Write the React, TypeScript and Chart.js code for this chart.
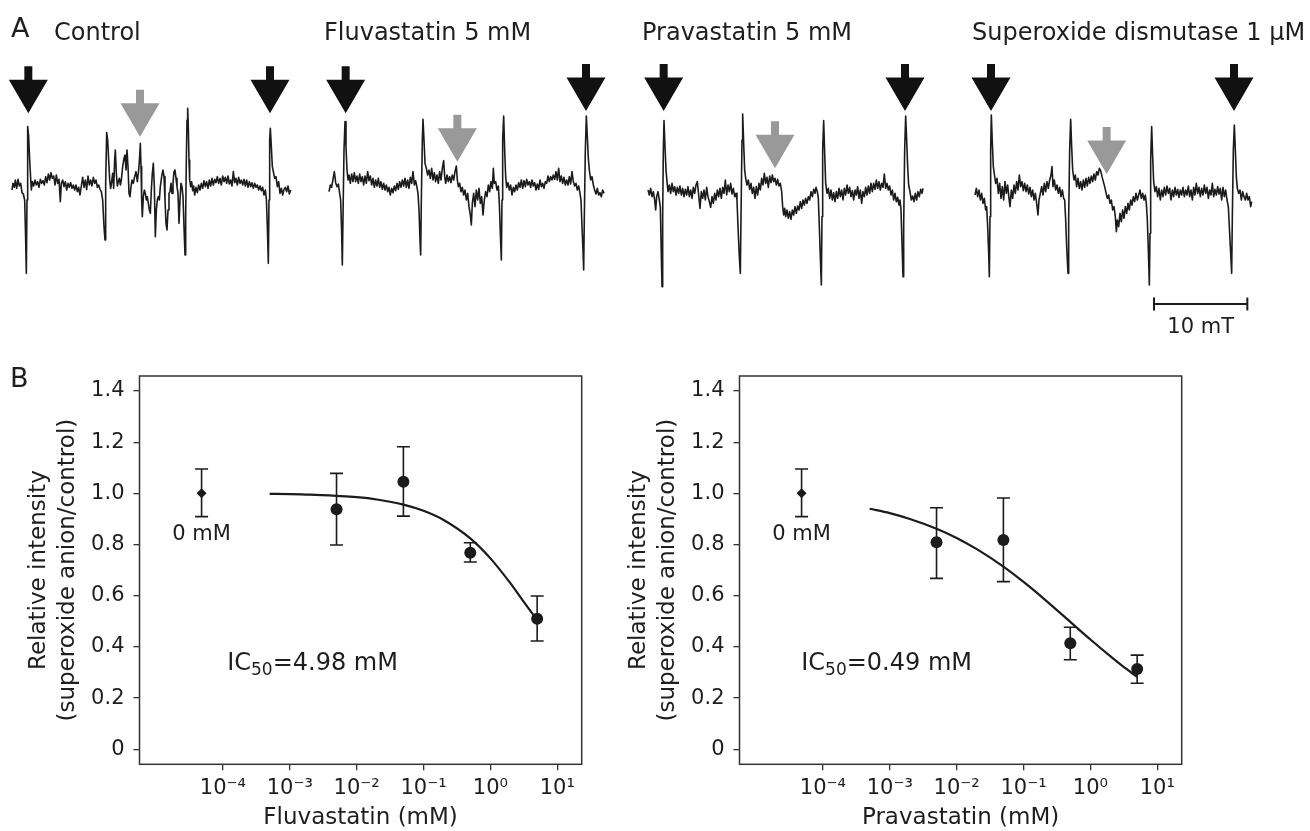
import React, { useEffect, useRef } from 'react';
import { Chart, registerables } from 'chart.js';

Chart.register(...registerables);

const FONT = '"DejaVu Sans", Verdana, sans-serif';
const INK = '#1b1b1b';
const TEXT = '#1e1e1e';
const AXIS = '#333333';
const ARROW_BLACK = '#111111';
const ARROW_GRAY = '#999999';

// ---------------- Panel A: ESR spectra (field position, deflection; deflection grows downward) ----------------
const traceTitles = ['Control', 'Fluvastatin 5 mM', 'Pravastatin 5 mM', 'Superoxide dismutase 1 \u03bcM'];

const traceControl: number[][] = [
  [12,270],[15,250],[19,262],[22,240],[26,265],[30,238],[34,258],[38,250],[42,278],[46,282],[50,300],[53,420],[55,520],[57,300],[59,80],[62,110],[65,180],[68,235],[70,270],[73,245],[77,258],[81,240],[85,255],[89,245],[93,262],[97,238],[101,250],[105,242],[109,255],[113,230],[117,248],[121,222],[125,240],[129,218],[133,235],[137,228],[141,255],[145,225],[149,250],[153,238],[157,305],[160,250],[164,240],[168,260],[172,245],[176,270],[180,250],[184,262],[188,248],[192,265],[196,255],[200,270],[204,255],[208,275],[212,262],[216,285],[220,258],[224,232],[228,262],[232,240],[236,268],[240,228],[244,255],[248,240],[252,258],[256,232],[260,250],[264,240],[268,262],[272,255],[276,268],[280,275],[284,300],[288,380],[291,420],[293,250],[296,98],[299,120],[302,180],[305,240],[308,265],[311,245],[314,220],[317,265],[320,180],[322,150],[325,220],[328,258],[331,245],[334,235],[337,255],[340,240],[344,200],[348,175],[351,165],[354,210],[357,150],[360,200],[363,280],[366,290],[369,260],[372,240],[376,250],[380,230],[384,215],[388,245],[392,210],[395,170],[397,130],[399,200],[401,300],[403,350],[406,290],[409,270],[412,280],[415,300],[418,290],[421,310],[424,330],[427,340],[430,270],[433,220],[436,190],[439,260],[442,410],[445,330],[448,300],[451,290],[454,300],[457,260],[461,230],[465,210],[468,230],[471,300],[474,370],[477,390],[480,330],[483,280],[486,275],[489,250],[492,280],[495,250],[498,215],[501,210],[504,235],[507,260],[510,280],[513,370],[516,300],[519,250],[522,260],[525,290],[528,380],[531,465],[533,350],[535,180],[537,60],[539,25],[541,80],[543,180],[545,240],[548,260],[551,245],[554,272],[557,258],[560,285],[564,262],[568,278],[572,255],[576,270],[580,250],[584,265],[588,242],[592,260],[596,245],[600,265],[604,240],[608,258],[612,235],[616,255],[620,238],[624,248],[628,230],[632,250],[636,235],[640,255],[644,228],[648,245],[652,232],[656,250],[660,228],[664,252],[668,240],[672,258],[676,215],[680,248],[684,235],[688,255],[692,232],[696,250],[700,240],[704,255],[708,238],[712,258],[716,240],[720,262],[724,245],[728,260],[732,248],[736,265],[740,250],[744,262],[748,255],[752,270],[756,258],[760,272],[764,262],[768,285],[772,270],[775,295],[778,380],[781,490],[783,300],[785,120],[787,85],[790,140],[793,200],[796,215],[800,235],[804,230],[808,260],[812,245],[816,280],[820,265],[824,285],[828,268],[832,262],[836,275],[840,258],[844,282],[848,270]
];

const traceFluvastatin: number[][] = [
  [18,275],[22,255],[26,262],[30,238],[34,215],[38,248],[42,260],[46,252],[50,280],[53,300],[56,400],[58,495],[60,350],[63,150],[66,65],[69,140],[72,210],[75,240],[78,225],[82,250],[86,222],[90,245],[94,218],[98,245],[102,228],[106,250],[110,222],[114,245],[118,230],[122,255],[126,228],[130,250],[134,215],[138,242],[142,228],[146,255],[150,235],[154,262],[158,240],[162,258],[166,235],[170,262],[174,245],[178,268],[182,250],[186,270],[190,255],[194,275],[198,262],[202,285],[206,265],[210,278],[214,258],[218,272],[222,250],[226,268],[230,245],[234,262],[238,240],[242,258],[246,235],[250,262],[254,240],[258,265],[262,232],[266,250],[270,215],[274,255],[278,242],[282,262],[285,280],[288,330],[291,420],[293,465],[295,300],[298,120],[300,58],[303,120],[306,190],[310,205],[314,225],[318,210],[322,235],[326,205],[330,240],[334,218],[338,245],[342,225],[346,250],[350,215],[354,240],[358,205],[362,182],[365,230],[368,250],[372,225],[376,245],[380,230],[384,248],[388,225],[392,240],[396,215],[400,198],[403,240],[406,260],[410,250],[414,275],[418,262],[422,285],[426,270],[430,300],[434,280],[438,320],[442,345],[445,375],[448,310],[452,280],[456,320],[460,270],[464,300],[468,265],[472,310],[476,290],[480,345],[484,300],[488,275],[492,290],[496,255],[500,275],[504,245],[508,265],[511,205],[514,250],[518,245],[522,270],[526,258],[529,310],[532,400],[535,480],[537,300],[539,120],[542,48],[545,150],[548,230],[551,262],[555,248],[559,270],[563,255],[567,285],[571,262],[575,275],[579,255],[583,270],[587,248],[591,262],[595,240],[599,265],[603,242],[607,260],[611,238],[615,255],[619,245],[623,262],[627,240],[631,258],[635,248],[639,270],[643,252],[647,268],[651,240],[655,260],[659,250],[663,265],[667,245],[671,250],[675,228],[679,245],[683,230],[687,240],[691,225],[695,238],[699,215],[703,240],[707,205],[711,245],[715,228],[719,250],[723,232],[727,255],[731,240],[735,255],[739,230],[743,252],[747,215],[751,245],[755,258],[759,250],[763,270],[767,258],[771,280],[774,300],[777,380],[780,450],[782,510],[784,350],[787,150],[790,48],[793,110],[796,175],[799,210],[803,240],[807,230],[811,255],[815,270],[819,282],[823,265],[827,285],[831,278],[835,290],[839,270],[843,280]
];

const tracePravastatin: number[][] = [
  [18,270],[22,285],[26,265],[30,290],[34,275],[38,300],[41,330],[44,290],[48,275],[52,300],[55,320],[57,420],[60,560],[62,350],[64,150],[66,62],[69,140],[72,210],[75,245],[78,275],[82,255],[86,280],[90,250],[94,275],[98,260],[102,285],[106,262],[110,280],[114,258],[118,285],[122,265],[126,290],[130,268],[134,285],[138,260],[142,290],[146,270],[150,295],[154,262],[158,280],[162,255],[166,245],[170,285],[174,325],[178,275],[182,295],[186,270],[190,300],[194,262],[198,290],[202,305],[206,322],[210,290],[214,310],[218,280],[222,300],[226,270],[230,290],[234,265],[238,295],[242,262],[246,280],[250,240],[254,285],[258,255],[262,275],[266,250],[270,282],[274,265],[278,290],[282,280],[285,300],[288,380],[292,470],[295,520],[297,350],[300,120],[302,42],[305,130],[308,210],[311,235],[315,255],[319,240],[323,268],[327,250],[331,280],[335,262],[339,295],[343,260],[347,285],[351,250],[355,270],[359,235],[363,255],[367,220],[371,250],[375,232],[379,262],[383,228],[387,248],[391,225],[395,245],[399,235],[403,255],[407,238],[411,258],[415,250],[419,275],[422,320],[425,345],[428,325],[431,350],[435,330],[439,355],[443,335],[447,358],[451,330],[455,345],[459,320],[463,340],[467,318],[471,330],[475,305],[479,325],[483,300],[487,315],[491,295],[495,310],[499,290],[503,300],[507,275],[511,290],[515,268],[519,280],[522,262],[526,275],[529,295],[532,380],[535,470],[538,555],[540,350],[542,150],[545,62],[548,160],[551,250],[555,280],[559,265],[563,295],[567,270],[571,300],[575,278],[579,305],[583,275],[587,295],[591,265],[595,290],[599,270],[603,300],[607,265],[611,285],[615,255],[619,280],[623,262],[627,290],[631,272],[635,300],[639,270],[643,285],[647,260],[651,295],[655,270],[659,310],[663,275],[667,290],[671,262],[675,285],[679,258],[683,280],[687,250],[691,275],[695,250],[699,268],[703,240],[707,265],[711,245],[715,270],[719,250],[723,262],[727,222],[731,265],[735,250],[739,270],[743,258],[747,285],[751,270],[755,300],[759,280],[763,305],[767,292],[771,315],[774,300],[777,330],[780,430],[783,530],[785,380],[788,150],[791,48],[794,120],[797,200],[800,255],[804,275],[808,300],[812,288],[816,305],[820,280],[824,300],[828,275],[832,290],[836,268],[840,280],[843,265]
];

const traceSOD: number[][] = [
  [15,285],[19,265],[23,290],[27,270],[31,300],[35,280],[39,310],[43,295],[47,330],[50,320],[53,380],[56,460],[58,530],[60,350],[62,150],[64,45],[67,130],[70,200],[73,222],[77,250],[81,235],[85,280],[89,250],[93,295],[97,260],[101,300],[105,245],[109,280],[113,255],[117,295],[120,320],[124,270],[128,295],[132,255],[136,280],[140,245],[144,270],[148,225],[152,260],[156,245],[160,272],[164,250],[168,275],[172,255],[176,282],[180,262],[184,290],[188,270],[192,300],[196,280],[200,310],[204,345],[207,300],[211,280],[215,260],[219,285],[223,250],[227,275],[231,245],[235,265],[239,240],[243,225],[246,200],[249,260],[253,240],[257,270],[261,255],[265,280],[269,262],[273,290],[277,270],[281,295],[284,300],[287,360],[290,440],[294,520],[296,350],[299,150],[302,58],[305,140],[308,210],[312,240],[316,225],[320,260],[324,235],[328,265],[332,245],[336,270],[340,240],[344,262],[348,235],[352,258],[356,232],[360,250],[364,228],[368,245],[372,222],[376,240],[380,215],[384,225],[388,205],[392,212],[396,230],[400,245],[404,260],[408,278],[412,295],[416,285],[420,310],[424,300],[428,330],[432,320],[436,350],[439,395],[442,360],[446,380],[450,340],[454,365],[458,330],[462,355],[466,320],[470,340],[474,310],[478,330],[482,300],[486,315],[490,290],[494,305],[498,280],[502,300],[506,285],[510,270],[514,295],[518,280],[522,300],[526,285],[529,310],[532,360],[535,450],[538,555],[540,400],[542,180],[545,80],[548,170],[551,245],[555,275],[559,260],[563,290],[567,265],[571,300],[575,270],[579,290],[583,262],[587,285],[591,258],[595,280],[599,265],[603,300],[607,270],[611,290],[615,262],[619,285],[623,268],[627,292],[631,270],[635,285],[639,262],[643,290],[647,270],[651,285],[655,258],[659,290],[663,270],[667,300],[671,262],[675,285],[679,250],[683,280],[687,262],[691,290],[695,265],[699,285],[703,255],[707,280],[711,262],[715,295],[719,270],[723,285],[727,250],[731,290],[735,268],[739,285],[743,260],[747,282],[751,265],[755,300],[759,262],[763,290],[767,270],[771,300],[775,320],[778,380],[782,460],[785,520],[787,350],[790,150],[793,75],[796,150],[799,230],[802,265],[806,280],[810,270],[814,300],[818,275],[822,290],[826,300],[830,280],[834,300],[838,290],[842,320],[845,305]
];

const traces = [traceControl, traceFluvastatin, tracePravastatin, traceSOD];

// arrows: field position and tip deflection, per trace; kinds per slot
const arrowField = [[61, 396, 786], [68, 403, 789], [65, 399, 789], [63, 410, 792]];
const arrowTip = [[40, 110, 40], [40, 185, 33], [33, 205, 33], [33, 222, 33]];
const arrowKind = ['black', 'gray', 'black'];

// scale bar (on the last trace): field start, field length, label
const scaleBarStart = 552;
const scaleBarLength = 280;
const scaleBarLabel = '10 mT';

// ---------------- Panel B: dose-response ----------------
const doseConc = [0.005, 0.05, 0.5, 5];
const controlConc = 4.8e-5; // "0 mM" drawn left of axis range
const controlMean = 1.0;
const controlHigh = 1.095;
const controlLow = 0.909;

const fluvaMean = [0.938, 1.045, 0.768, 0.51];
const fluvaHigh = [1.078, 1.182, 0.807, 0.599];
const fluvaLow = [0.798, 0.911, 0.732, 0.423];

const pravaMean = [0.809, 0.818, 0.414, 0.314];
const pravaHigh = [0.944, 0.982, 0.477, 0.368];
const pravaLow = [0.668, 0.655, 0.35, 0.258];

const fitConc = [5e-4, 1e-3, 2e-3, 5e-3, 1e-2, 2e-2, 5e-2, 0.1, 0.2, 0.5, 1, 2, 3, 5];
const fluvaFit = [0.998, 0.997, 0.995, 0.99, 0.985, 0.976, 0.956, 0.932, 0.896, 0.824, 0.746, 0.648, 0.584, 0.505];
const pravaFit = [0.94, 0.923, 0.9, 0.862, 0.826, 0.782, 0.714, 0.654, 0.589, 0.498, 0.429, 0.363, 0.326, 0.283];

const xTickValues = [1e-4, 1e-3, 1e-2, 1e-1, 1, 10];
const xTickLabels = ['10\u207b\u2074', '10\u207b\u00b3', '10\u207b\u00b2', '10\u207b\u00b9', '10\u2070', '10\u00b9'];
const yTickValues = [0, 0.2, 0.4, 0.6, 0.8, 1.0, 1.2, 1.4];

// ---------------- layout ----------------
const W = 1310;
const A_H = 345;
const TRACE_ORIGIN = [8, 323, 642, 970];
const FIELD_PER_PX = 3;
const DEFLECT_ZERO_PX = 100;
const B_TOP = 345;
const B_W = 600;
const B_H = 486;

function panelAConfig(): any {
  const scales: any = {
    y: { display: false, min: -DEFLECT_ZERO_PX * FIELD_PER_PX, max: (A_H - DEFLECT_ZERO_PX) * FIELD_PER_PX, reverse: true },
  };
  const ids = ['x', 'x1', 'x2', 'x3'];
  ids.forEach((id, k) => {
    scales[id] = {
      type: 'linear', axis: 'x', display: false,
      min: -FIELD_PER_PX * TRACE_ORIGIN[k],
      max: FIELD_PER_PX * (W - TRACE_ORIGIN[k]),
    };
  });
  const plugin = {
    id: 'panelADecor',
    afterDatasetsDraw(chart: any) {
      const ctx = chart.ctx;
      const ys = chart.scales.y;
      ctx.save();
      arrowField.forEach((row, k) => {
        const xs = chart.scales[ids[k]];
        row.forEach((f, j) => {
          const px = xs.getPixelForValue(f);
          const py = ys.getPixelForValue(arrowTip[k][j]);
          ctx.fillStyle = arrowKind[j] === 'black' ? ARROW_BLACK : ARROW_GRAY;
          ctx.beginPath();
          ctx.moveTo(px - 4, py - 47);
          ctx.lineTo(px + 4, py - 47);
          ctx.lineTo(px + 4, py - 33.5);
          ctx.lineTo(px + 19.5, py - 33.5);
          ctx.lineTo(px, py);
          ctx.lineTo(px - 19.5, py - 33.5);
          ctx.lineTo(px - 4, py - 33.5);
          ctx.closePath();
          ctx.fill();
        });
      });
      ctx.fillStyle = TEXT;
      ctx.textBaseline = 'alphabetic';
      ctx.textAlign = 'left';
      ctx.font = `27px ${FONT}`;
      ctx.fillText('A', 11, 37);
      ctx.font = `24px ${FONT}`;
      const titleX = [54, 324, 642, 972];
      traceTitles.forEach((t, k) => ctx.fillText(t, titleX[k], 40));
      const xs = chart.scales.x3;
      const x1 = xs.getPixelForValue(scaleBarStart);
      const x2 = xs.getPixelForValue(scaleBarStart + scaleBarLength);
      const yb = 304;
      ctx.strokeStyle = INK;
      ctx.lineWidth = 2;
      ctx.beginPath();
      ctx.moveTo(x1, yb); ctx.lineTo(x2, yb);
      ctx.moveTo(x1, yb - 6.5); ctx.lineTo(x1, yb + 6.5);
      ctx.moveTo(x2, yb - 6.5); ctx.lineTo(x2, yb + 6.5);
      ctx.stroke();
      ctx.font = `21px ${FONT}`;
      ctx.textAlign = 'center';
      ctx.fillText(scaleBarLabel, (x1 + x2) / 2, 333);
      ctx.restore();
    },
  };
  return {
    type: 'scatter',
    data: {
      datasets: traces.map((t, k) => ({
        data: t.map(([x, y]) => ({ x, y })),
        xAxisID: ids[k],
        yAxisID: 'y',
        showLine: true,
        pointRadius: 0,
        borderColor: INK,
        borderWidth: 1.6,
        borderJoinStyle: 'round',
        tension: 0,
      })),
    },
    options: {
      responsive: false,
      animation: false,
      devicePixelRatio: 1,
      layout: { padding: 0 },
      plugins: { legend: { display: false }, tooltip: { enabled: false } },
      scales,
    },
    plugins: [plugin],
  };
}

interface DoseSpec {
  xTitle: string;
  mean: number[];
  high: number[];
  low: number[];
  fit: number[];
  ic50Value: string;
  ic50At: { x: number; y: number };
  letter: boolean;
}

const FLUVA: DoseSpec = {
  xTitle: 'Fluvastatin (mM)', mean: fluvaMean, high: fluvaHigh, low: fluvaLow, fit: fluvaFit,
  ic50Value: '=4.98 mM', ic50At: { x: 1.16e-4, y: 0.31 }, letter: true,
};
const PRAVA: DoseSpec = {
  xTitle: 'Pravastatin (mM)', mean: pravaMean, high: pravaHigh, low: pravaLow, fit: pravaFit,
  ic50Value: '=0.49 mM', ic50At: { x: 4.75e-5, y: 0.31 }, letter: false,
};

function doseConfig(d: DoseSpec): any {
  const CAP = 6.5;
  const plugin = {
    id: 'doseDecor',
    beforeDatasetsDraw(chart: any) {
      const { ctx } = chart;
      const xs = chart.scales.x, ys = chart.scales.y;
      ctx.save();
      ctx.strokeStyle = INK;
      ctx.lineWidth = 1.6;
      chart.data.datasets.forEach((ds: any) => {
        if (!ds.errHigh) return;
        ds.data.forEach((p: any, i: number) => {
          const px = xs.getPixelForValue(p.x);
          const y1 = ys.getPixelForValue(ds.errHigh[i]);
          const y2 = ys.getPixelForValue(ds.errLow[i]);
          ctx.beginPath();
          ctx.moveTo(px, y1); ctx.lineTo(px, y2);
          ctx.moveTo(px - CAP, y1); ctx.lineTo(px + CAP, y1);
          ctx.moveTo(px - CAP, y2); ctx.lineTo(px + CAP, y2);
          ctx.stroke();
        });
      });
      ctx.restore();
    },
    afterDraw(chart: any) {
      const { ctx, chartArea } = chart;
      const xs = chart.scales.x, ys = chart.scales.y;
      ctx.save();
      ctx.strokeStyle = AXIS;
      ctx.lineWidth = 1.5;
      ctx.strokeRect(chartArea.left, chartArea.top, chartArea.right - chartArea.left, chartArea.bottom - chartArea.top);
      ctx.fillStyle = TEXT;
      ctx.textBaseline = 'alphabetic';
      ctx.font = `21px ${FONT}`;
      ctx.textAlign = 'center';
      ctx.fillText('0 mM', xs.getPixelForValue(controlConc), ys.getPixelForValue(0.818));
      ctx.textAlign = 'left';
      let x = xs.getPixelForValue(d.ic50At.x);
      const y = ys.getPixelForValue(d.ic50At.y);
      ctx.font = `24px ${FONT}`;
      ctx.fillText('IC', x, y);
      x += ctx.measureText('IC').width;
      ctx.font = `17px ${FONT}`;
      ctx.fillText('50', x, y + 5);
      x += ctx.measureText('50').width;
      ctx.font = `24px ${FONT}`;
      ctx.fillText(d.ic50Value, x, y);
      if (d.letter) {
        ctx.font = `27px ${FONT}`;
        ctx.fillText('B', 10, 42);
      }
      ctx.restore();
    },
  };
  return {
    type: 'scatter',
    data: {
      datasets: [
        {
          data: fitConc.map((x, i) => ({ x, y: d.fit[i] })),
          showLine: true, pointRadius: 0, borderColor: INK, borderWidth: 2.2,
          cubicInterpolationMode: 'monotone',
        },
        {
          data: doseConc.map((x, i) => ({ x, y: d.mean[i] })),
          pointRadius: 6, pointStyle: 'circle', backgroundColor: INK, borderColor: INK, borderWidth: 0,
          errHigh: d.high, errLow: d.low,
        },
        {
          data: [{ x: controlConc, y: controlMean }],
          pointRadius: 5, pointStyle: 'rectRot', backgroundColor: INK, borderColor: INK, borderWidth: 0,
          errHigh: [controlHigh], errLow: [controlLow],
        },
      ],
    },
    options: {
      responsive: false,
      animation: false,
      devicePixelRatio: 1,
      layout: { padding: { left: 0, top: 31, right: 18.3, bottom: 0 } },
      plugins: { legend: { display: false }, tooltip: { enabled: false } },
      scales: {
        x: {
          type: 'logarithmic',
          min: Math.pow(10, -5.247),
          max: Math.pow(10, 1.365),
          afterBuildTicks: (s: any) => { s.ticks = xTickValues.map((v) => ({ value: v })); },
          afterFit: (s: any) => { s.height = 66.7; },
          ticks: {
            callback: (_v: any, i: number) => xTickLabels[i],
            font: { family: FONT, size: 21 }, color: TEXT, padding: 6,
            maxRotation: 0, autoSkip: false,
          },
          grid: { drawOnChartArea: false, drawTicks: true, tickLength: 6, color: AXIS, lineWidth: 1.3 },
          border: { display: false },
          title: {
            display: true, text: d.xTitle, color: TEXT,
            font: { family: FONT, size: 23, lineHeight: 1 },
            padding: { top: 0, bottom: 1 },
          },
        },
        y: {
          type: 'linear',
          min: -0.0586,
          max: 1.4586,
          afterBuildTicks: (s: any) => { s.ticks = yTickValues.map((v) => ({ value: v })); },
          afterFit: (s: any) => { s.width = 139.5; },
          ticks: {
            callback: (v: any) => (v === 0 ? '0' : Number(v).toFixed(1)),
            font: { family: FONT, size: 21 }, color: TEXT, padding: 9,
          },
          grid: { drawOnChartArea: false, drawTicks: true, tickLength: 6, color: AXIS, lineWidth: 1.3 },
          border: { display: false },
          title: {
            display: true, text: ['Relative intensity', '(superoxide anion/control)'], color: TEXT,
            font: { family: FONT, size: 23, lineHeight: 1.26 },
            padding: { top: 25, bottom: 0 },
          },
        },
      },
    },
    plugins: [plugin],
  };
}

export default function App() {
  const aRef = useRef<HTMLCanvasElement>(null);
  const lRef = useRef<HTMLCanvasElement>(null);
  const rRef = useRef<HTMLCanvasElement>(null);

  useEffect(() => {
    const charts = [
      new Chart(aRef.current as HTMLCanvasElement, panelAConfig()),
      new Chart(lRef.current as HTMLCanvasElement, doseConfig(FLUVA)),
      new Chart(rRef.current as HTMLCanvasElement, doseConfig(PRAVA)),
    ];
    return () => charts.forEach((c) => c.destroy());
  }, []);

  return (
    <div style={{ position: 'fixed', left: 0, top: 0, width: W, height: 831, background: '#fff', overflow: 'hidden' }}>
      <canvas ref={aRef} width={W} height={A_H} style={{ position: 'absolute', left: 0, top: 0, width: W, height: A_H }} />
      <canvas ref={lRef} width={B_W} height={B_H} style={{ position: 'absolute', left: 0, top: B_TOP, width: B_W, height: B_H }} />
      <canvas ref={rRef} width={B_W} height={B_H} style={{ position: 'absolute', left: B_W, top: B_TOP, width: B_W, height: B_H }} />
    </div>
  );
}
